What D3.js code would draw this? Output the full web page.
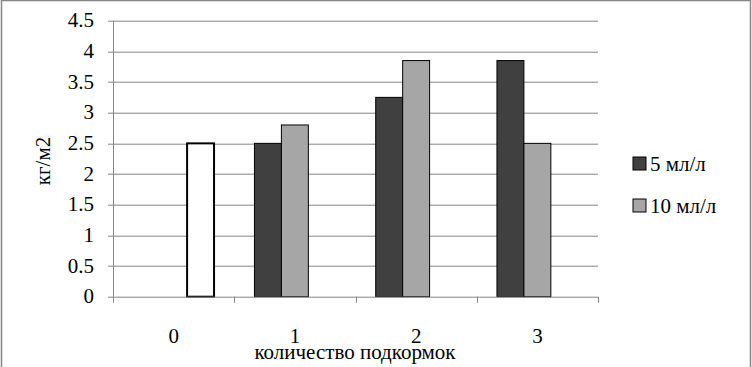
<!DOCTYPE html>
<html>
<head>
<meta charset="utf-8">
<script src="https://cdn.jsdelivr.net/npm/d3@7"></script>
</head>
<body style="margin:0">
<script>
// data
var categories = ['0', '1', '2', '3'];
var series5 = [null, 2.5, 3.25, 3.85];   // 5 мл/л
var series10 = [null, 2.8, 3.85, 2.5];   // 10 мл/л
var control = [2.5, null, null, null];   // без подкормки
var yTicks = [0, 0.5, 1, 1.5, 2, 2.5, 3, 3.5, 4, 4.5];

var FONT = "'Liberation Serif'";
var width = 752, height = 367;
var margin = { top: 20.7, right: 154, bottom: 70.3, left: 113 };
var innerW = width - margin.left - margin.right,
  innerH = height - margin.top - margin.bottom;

var svg = d3.select('body').append('svg')
  .attr('width', width)
  .attr('height', height);

// outer frame (no bottom edge visible)
svg.append('path')
  .attr('d', 'M1.5,' + height + ' V0.5 H750.5 V' + height)
  .attr('fill', 'none')
  .attr('stroke', '#868686')
  .attr('stroke-width', 1.5);

var g = svg.append('g')
  .attr('transform', 'translate(' + margin.left + ',' + margin.top + ')');

var x = d3.scaleBand().domain(categories).range([0, innerW]);
var y = d3.scaleLinear().domain([0, 4.5]).range([innerH, 0]);
var slots = d3.scaleBand().domain(['a', 'b', 'c'])
  .range([0, x.bandwidth()]).paddingOuter(0.75).paddingInner(0);

// gridlines
g.selectAll('line.grid').data(yTicks.slice(1)).enter()
  .append('line')
  .attr('x1', 0).attr('x2', innerW)
  .attr('y1', function(d) { return Math.round(y(d)) + 0.5; })
  .attr('y2', function(d) { return Math.round(y(d)) + 0.5; })
  .attr('stroke', '#868686');

// bars
var bars = [
  { key: 'a', values: series5, fill: '#404040', sw: 1 },
  { key: 'b', values: series10, fill: '#a6a6a6', sw: 1 },
  { key: 'c', values: control, fill: '#ffffff', sw: 2 }
];
bars.forEach(function(s) {
  g.selectAll(null).data(s.values.map(function(v, i) { return { c: categories[i], v: v }; })
      .filter(function(d) { return d.v != null; }))
    .enter().append('rect')
    .attr('x', function(d) { return x(d.c) + slots(s.key); })
    .attr('y', function(d) { return y(d.v); })
    .attr('width', slots.bandwidth())
    .attr('height', function(d) { return innerH - y(d.v); })
    .attr('fill', s.fill)
    .attr('stroke', '#000')
    .attr('stroke-width', s.sw);
});

// y axis: ticks and labels drawn by hand so no axis font attributes interfere
g.append('line')
  .attr('x1', 0.5).attr('x2', 0.5).attr('y1', 0).attr('y2', innerH)
  .attr('stroke', '#868686');
g.selectAll('line.ytick').data(yTicks).enter().append('line')
  .attr('x1', -5).attr('x2', 0)
  .attr('y1', function(d) { return Math.round(y(d)) + 0.5; })
  .attr('y2', function(d) { return Math.round(y(d)) + 0.5; })
  .attr('stroke', '#868686');
g.selectAll('text.ylab').data(yTicks).enter().append('text')
  .attr('x', -19)
  .attr('y', function(d) { return y(d); })
  .attr('dy', '0.32em')
  .attr('text-anchor', 'end')
  .style('font-family', FONT).style('font-size', '21px')
  .text(function(d) { return d; });

// x axis
g.append('line')
  .attr('x1', 0).attr('x2', innerW)
  .attr('y1', innerH + 0.5).attr('y2', innerH + 0.5)
  .attr('stroke', '#868686');
g.selectAll('line.sep').data(d3.range(categories.length + 1)).enter()
  .append('line')
  .attr('x1', function(i) { return Math.round(i * x.step()) + 0.5; })
  .attr('x2', function(i) { return Math.round(i * x.step()) + 0.5; })
  .attr('y1', innerH).attr('y2', innerH + 6)
  .attr('stroke', '#868686');
g.selectAll('text.xlab').data(categories).enter().append('text')
  .attr('x', function(d) { return x(d) + x.bandwidth() / 2; })
  .attr('y', innerH + 46)
  .attr('text-anchor', 'middle')
  .style('font-family', FONT).style('font-size', '21px')
  .text(function(d) { return d; });

// axis titles
svg.append('text')
  .attr('transform', 'translate(50,161) rotate(-90)')
  .attr('text-anchor', 'middle')
  .style('font-family', FONT).style('font-size', '21px')
  .text('кг/м2');

svg.append('text')
  .attr('x', 355).attr('y', 359)
  .attr('text-anchor', 'middle')
  .style('font-family', FONT).style('font-size', '21px')
  .text('количество подкормок');

// legend
var legend = [
  { label: '5 мл/л', fill: '#404040' },
  { label: '10 мл/л', fill: '#a6a6a6' }
];
var lg = svg.selectAll('g.legend').data(legend).enter().append('g')
  .attr('transform', function(d, i) { return 'translate(633,' + (157 + i * 42) + ')'; });
lg.append('rect')
  .attr('width', 13).attr('height', 13)
  .attr('fill', function(d) { return d.fill; })
  .attr('stroke', '#000');
lg.append('text')
  .attr('x', 17).attr('y', 14)
  .style('font-family', FONT).style('font-size', '21px')
  .text(function(d) { return d.label; });
</script>
</body>
</html>
